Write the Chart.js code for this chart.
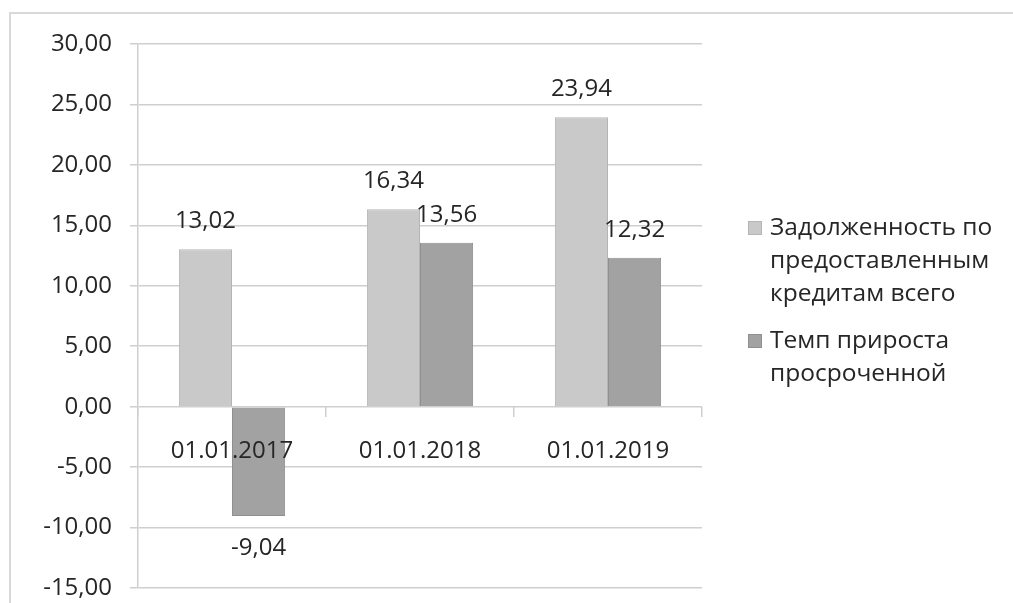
<!DOCTYPE html>
<html>
<head>
<meta charset="utf-8">
<script src="https://cdn.jsdelivr.net/npm/chart.js@4"></script>
<style>
  html, body { margin: 0; padding: 0; background: #fff; overflow: hidden; }
  #frame { position: absolute; left: 9px; top: 12px; width: 1100px; height: 700px; border: 2px solid #d9d9d9; }
  #wrap { position: absolute; left: 0; top: 0; width: 1013px; height: 603px; }
</style>
</head>
<body>
<div id="frame"></div>
<div id="wrap"><canvas id="chart" width="1013" height="603"></canvas></div>
<script>
// Chart data
const categories = ["01.01.2017", "01.01.2018", "01.01.2019"]
const debtTotal = [13.02, 16.34, 23.94]
const overdueGrowth = [-9.04, 13.56, 12.32]
const seriesNames = [
  ["Задолженность по", "предоставленным", "кредитам всего"],
  ["Темп прироста", "просроченной"],
]
const yTicks = { min: -15, max: 30, step: 5 }

const FONT = "'Open Sans', 'DejaVu Sans', sans-serif"
const TEXT = "#262626"
const GRID = "#cfcfcf"
const fmt = (v) => v.toFixed(2).replace(".", ",")

// values above / below the bars
const valueLabels = {
  id: "valueLabels",
  afterDatasetsDraw(chart) {
    const ctx = chart.ctx
    ctx.save()
    ctx.font = "24px " + FONT
    ctx.fillStyle = TEXT
    ctx.textAlign = "center"
    ctx.textBaseline = "middle"
    chart.data.datasets.forEach((ds, i) => {
      chart.getDatasetMeta(i).data.forEach((bar, j) => {
        const v = ds.data[j]
        const y = v >= 0 ? bar.y - 28 : bar.y + 32
        ctx.fillText(fmt(v), bar.x, y)
      })
    })
    ctx.restore()
  },
}

// legend on the right with wrapped names
const sideLegend = {
  id: "sideLegend",
  afterDraw(chart) {
    const ctx = chart.ctx
    const area = chart.chartArea
    const x = area.right + 46
    let y = area.top + 184
    ctx.save()
    ctx.font = "24.5px " + FONT
    ctx.textBaseline = "middle"
    chart.data.datasets.forEach((ds, i) => {
      ctx.fillStyle = ds.backgroundColor
      ctx.strokeStyle = ds.borderColor
      ctx.lineWidth = 1
      ctx.fillRect(x, y - 7, 14, 14)
      ctx.strokeRect(x + 0.5, y - 6.5, 13, 13)
      ctx.fillStyle = TEXT
      seriesNames[i].forEach((line, k) => {
        ctx.fillText(line, x + 22, y + k * 33)
      })
      y += seriesNames[i].length * 33 + 14
    })
    ctx.restore()
  },
}

new Chart(document.getElementById("chart"), {
  type: "bar",
  data: {
    labels: categories,
    datasets: [
      {
        label: seriesNames[0].join(" "),
        data: debtTotal,
        backgroundColor: "#c9c9c9",
        borderColor: "#b5b5b5",
        borderWidth: 1,
      },
      {
        label: seriesNames[1].join(" "),
        data: overdueGrowth,
        backgroundColor: "#a2a2a2",
        borderColor: "#8f8f8f",
        borderWidth: 1,
      },
    ],
  },
  options: {
    responsive: false,
    animation: false,
    events: [],
    layout: { padding: { left: 0, top: 44, right: 311, bottom: 15 } },
    datasets: { bar: { categoryPercentage: 0.565, barPercentage: 1 } },
    plugins: { legend: { display: false }, tooltip: { enabled: false } },
    scales: {
      x: {
        position: { y: 0 },
        grid: { display: true, drawOnChartArea: false, offset: true, tickLength: 10, color: GRID, lineWidth: 1.5 },
        border: { display: false },
        ticks: { z: 1, font: { family: FONT, size: 24 }, color: TEXT, padding: 20, maxRotation: 0 },
      },
      y: {
        min: yTicks.min,
        max: yTicks.max,
        afterFit: (scale) => {
          scale.width = 138
          scale.paddingTop = 10
          scale.paddingBottom = 10
        },
        grid: { color: GRID, lineWidth: 1.5, tickLength: 8 },
        border: { color: GRID, width: 1.5 },
        ticks: {
          stepSize: yTicks.step,
          font: { family: FONT, size: 24 },
          color: TEXT,
          padding: 18,
          callback: (v) => fmt(v),
        },
      },
    },
  },
  plugins: [valueLabels, sideLegend],
})
</script>
</body>
</html>
